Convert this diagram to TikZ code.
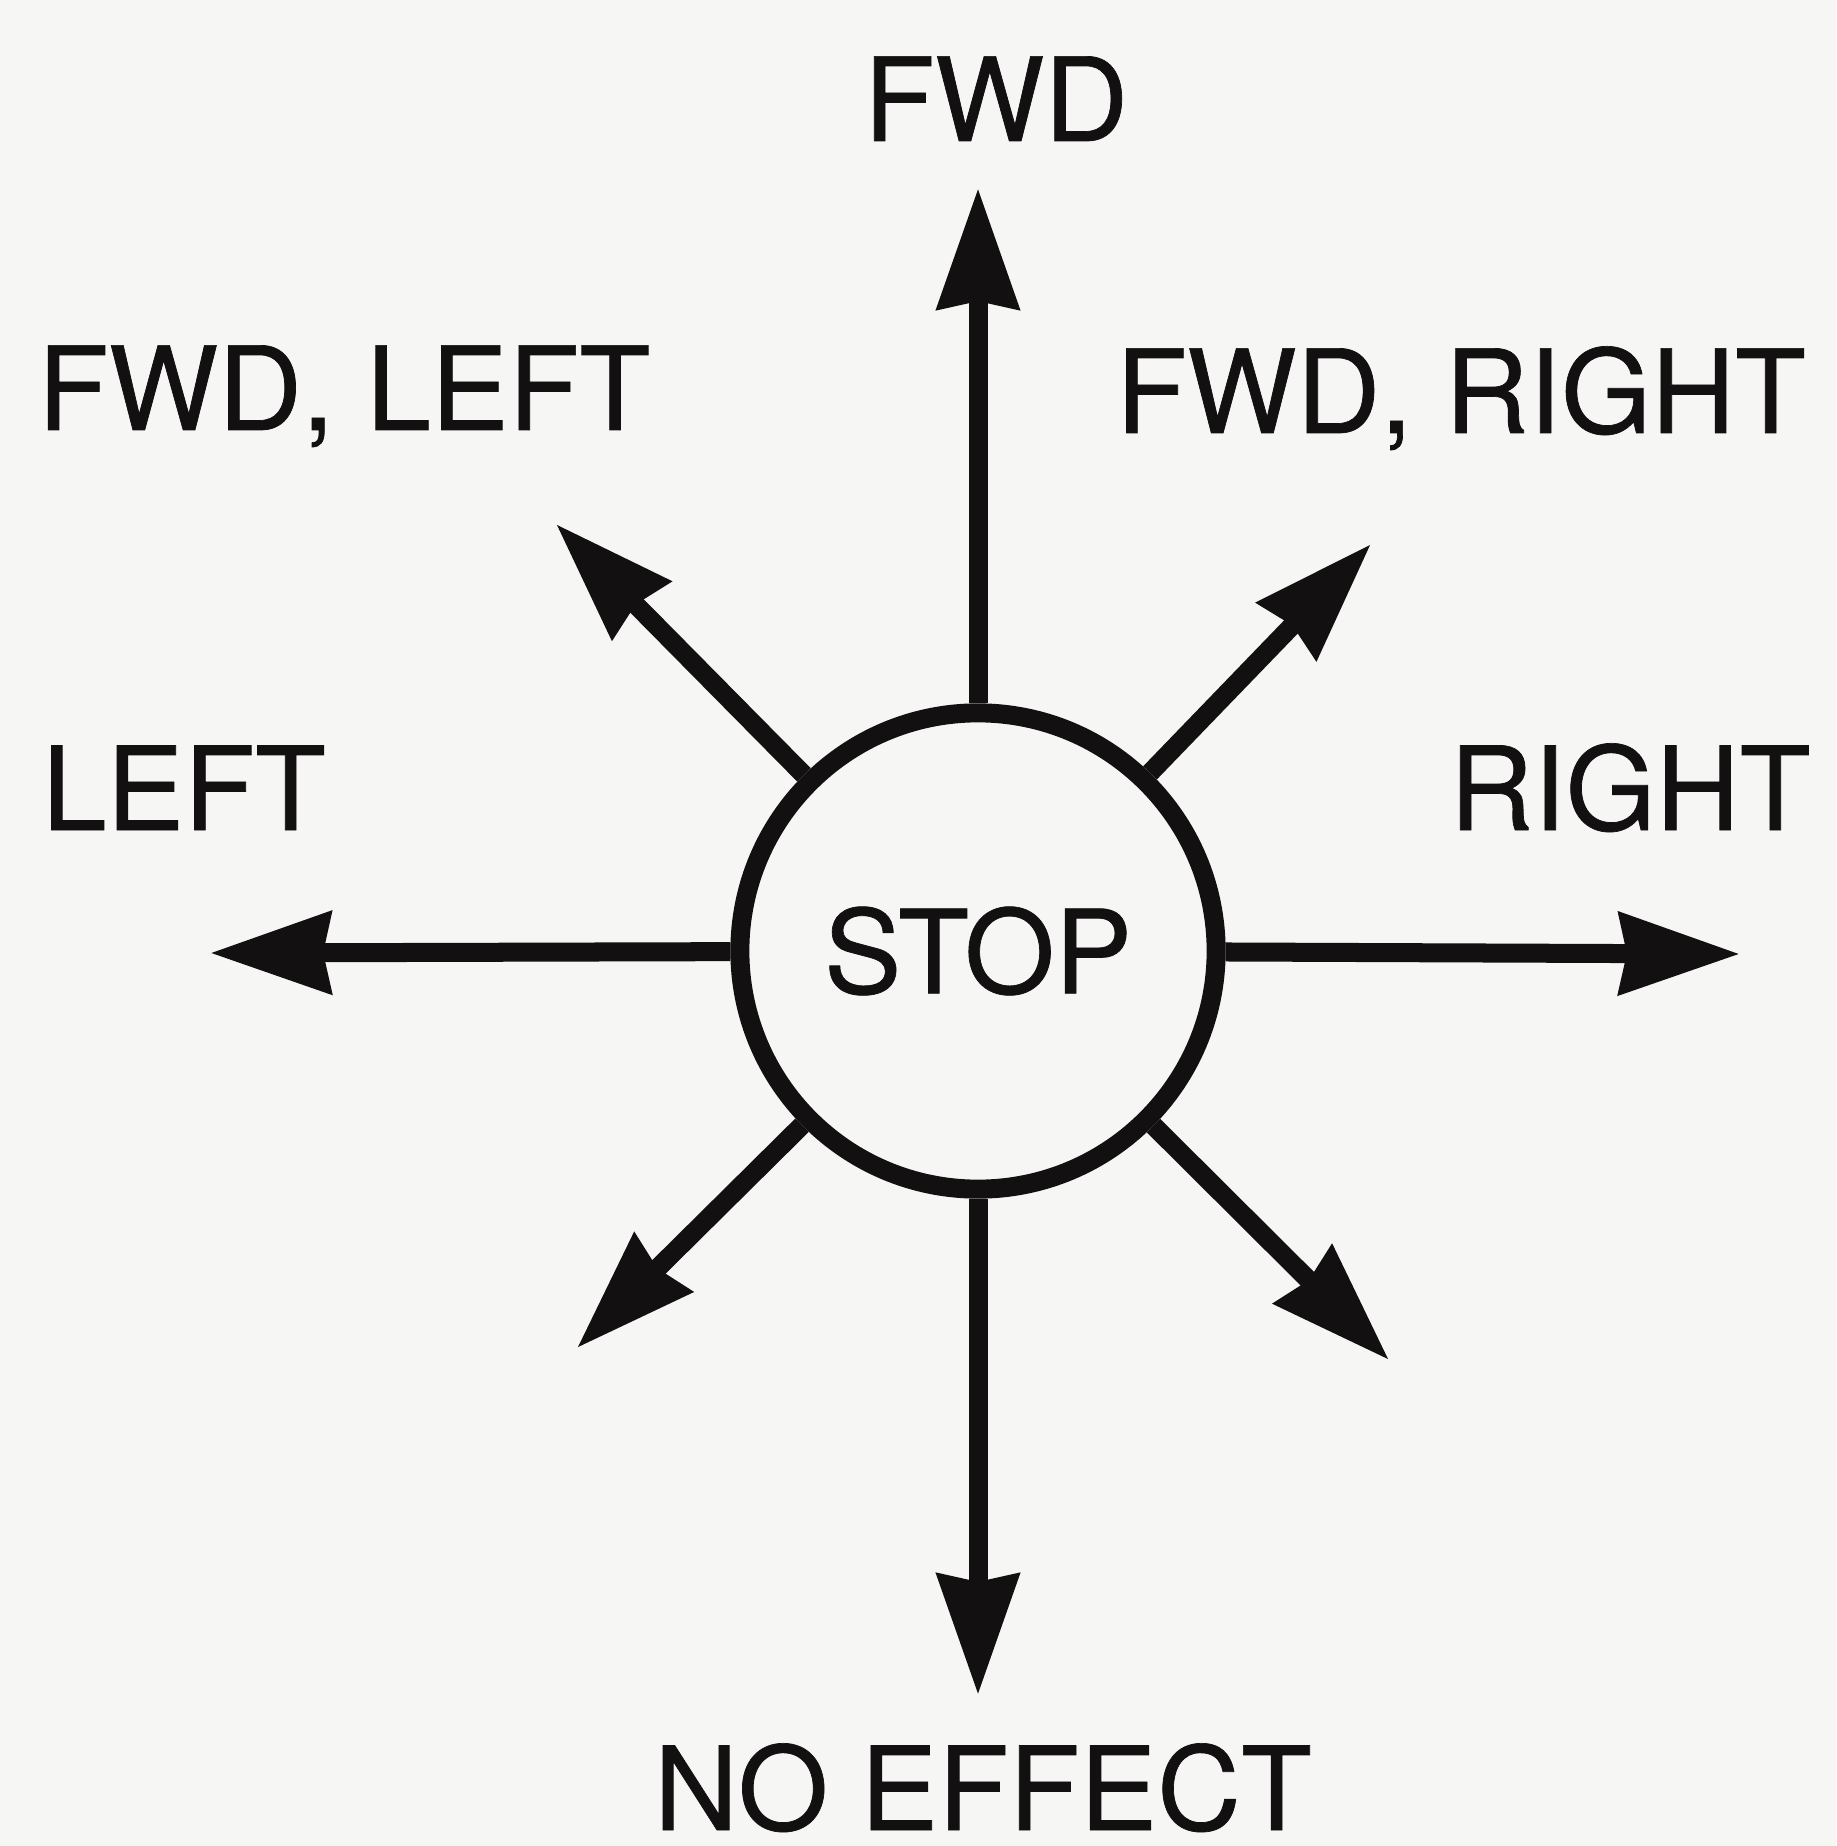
\documentclass[tikz,border=0pt]{standalone}
\usepackage{fontspec}
\setmainfont{TeX Gyre Heros}
\newfontfamily\lblfont[FakeBold=0.6]{TeX Gyre Heros}
\usetikzlibrary{arrows.meta}
\definecolor{paper}{RGB}{246,246,244}
\definecolor{ink}{RGB}{18,16,16}
\tikzset{
  arr/.style={draw=ink, line width=0.19cm, -{Stealth[length=1.2cm,width=0.8cm,inset=0.07cm]}},
  lbl/.style={font=\lblfont\fontsize{33}{40}\selectfont, text=ink, inner sep=0pt, anchor=base},
  hub/.style={circle, draw=ink, line width=0.19cm, minimum size=4.76cm, inner sep=0pt,
              font=\lblfont\fontsize{33}{40}\selectfont, text=ink}
}
\begin{document}
\begin{tikzpicture}[x=0.01cm,y=-0.01cm]
\fill[paper] (0,0) rectangle (1836,1846);
\useasboundingbox (0,0) rectangle (1836,1846);
\node[hub] (stop) at (978,951) {STOP};
\coordinate (tipN) at (978,188);
\coordinate (tipS) at (978,1695);
\coordinate (tipW) at (210,953);
\coordinate (tipE) at (1740,954);
\coordinate (tipUL) at (556,524);
\coordinate (tipUR) at (1371,544);
\coordinate (tipLL) at (577,1348);
\coordinate (tipLR) at (1389,1360);
\draw[arr] (stop) -- (tipN);
\draw[arr] (stop) -- (tipS);
\draw[arr] (stop) -- (tipW);
\draw[arr] (stop) -- (tipE);
\draw[arr] (stop) -- (tipUL);
\draw[arr] (stop) -- (tipUR);
\draw[arr] (stop) -- (tipLL);
\draw[arr] (stop) -- (tipLR);
\node[lbl] (fwd) at (996,141) {FWD};
\node[lbl] (fwdleft) at (344,430) {FWD, LEFT};
\node[lbl] (fwdright) at (1461,433) {FWD, RIGHT};
\node[lbl] (left) at (184,830) {LEFT};
\node[lbl] (right) at (1630,830) {RIGHT};
\node[lbl] (noeffect) at (983,1830) {NO EFFECT};
\end{tikzpicture}
\end{document}
